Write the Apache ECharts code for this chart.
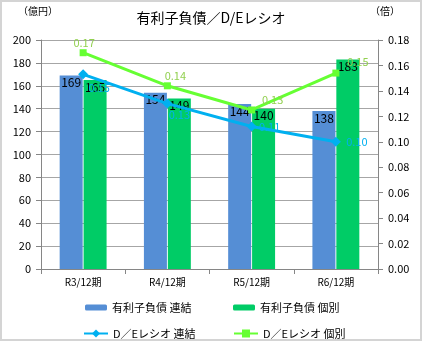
<!DOCTYPE html>
<html><head><meta charset="utf-8">
<script src="https://cdn.jsdelivr.net/npm/echarts@6/dist/echarts.min.js"></script>
<style>html,body{margin:0;padding:0;background:#fff}#c{width:422px;height:341px}</style>
</head><body><div id="c"></div>
<script>
const categories = ['R3/12期','R4/12期','R5/12期','R6/12期'];
const debtConsolidated = [169,154,144,138];
const debtSeparate = [165,149,140,183];
const deConsolidated = [0.153,0.130,0.112,0.100];
const deSeparate = [0.170,0.144,0.125,0.154];
const seriesNames = ['有利子負債 連結','有利子負債 個別','D／Eレシオ 連結','D／Eレシオ 個別'];

// label offsets (style only, relative to point)
const blueLabelOffsets = [[16,13],[12,11],[18,0],[21,0]];
const greenLabelOffsets = [[1,-10],[8,-10],[21,-10],[22,-11]];

const FONT = '"Noto Sans CJK JP", sans-serif';
const chart = echarts.init(document.getElementById('c'), null, {renderer:'canvas'});
const legendBase = {orient:'horizontal', itemWidth:22, itemHeight:6, itemGap:4,
  textStyle:{fontFamily:FONT, fontSize:11, color:'#000'}, selectedMode:false};
const withOffsets = (vals, offs) => vals.map((v,i)=>({value:v, label:{offset:offs[i]}}));
chart.setOption({
  animation:false,
  textStyle:{fontFamily:FONT},
  graphic:[
    {type:'rect', shape:{x:1,y:1,width:420,height:339}, style:{fill:'none', stroke:'#d4d4d4', lineWidth:2}, z:100},
    {type:'text', left:18, top:6, style:{text:'（億円）', font:'10px '+FONT, fill:'#000'}},
    {type:'text', left:370, top:6, style:{text:'（倍）', font:'10px '+FONT, fill:'#000'}}
  ],
  title:{text:'有利子負債／D/Eレシオ', left:'center', top:6,
    textStyle:{fontFamily:FONT, fontSize:14, fontWeight:'normal', color:'#000'}},
  legend:[
    Object.assign({}, legendBase, {left:80, top:297, data:[seriesNames[0]]}),
    Object.assign({}, legendBase, {left:228, top:297, data:[seriesNames[1]]}),
    Object.assign({}, legendBase, {left:78, top:323, itemWidth:24, itemHeight:10, data:[seriesNames[2]]}),
    Object.assign({}, legendBase, {left:228, top:323, itemWidth:24, itemHeight:10, data:[seriesNames[3]]})
  ],
  grid:{left:41, right:44, top:40, bottom:72},
  xAxis:{type:'category', data:categories,
    axisLine:{lineStyle:{color:'#868686'}},
    axisTick:{show:true, length:5, lineStyle:{color:'#868686'}},
    axisLabel:{fontFamily:FONT, fontSize:10, color:'#000', margin:8}},
  yAxis:[
    {type:'value', min:0, max:200, interval:20,
     axisLine:{show:true, lineStyle:{color:'#868686'}},
     axisTick:{show:true, length:5, lineStyle:{color:'#868686'}},
     splitLine:{lineStyle:{color:'#a6a6a6'}},
     axisLabel:{fontFamily:FONT, fontSize:11, color:'#000', margin:10}},
    {type:'value', min:0, max:0.18, interval:0.02,
     axisLine:{show:true, lineStyle:{color:'#868686'}},
     axisTick:{show:true, length:5, lineStyle:{color:'#868686'}},
     splitLine:{show:false},
     axisLabel:{fontFamily:FONT, fontSize:11, color:'#000', margin:10, formatter:v=>v.toFixed(2)}}
  ],
  series:[
    {name:seriesNames[0], type:'bar', data:debtConsolidated, barWidth:23, barGap:'4%',
     itemStyle:{color:'#558ed5'}, z:2,
     label:{show:true, position:'insideTop', distance:1, color:'#000', fontSize:12, fontFamily:FONT}},
    {name:seriesNames[1], type:'bar', data:debtSeparate, barWidth:23, barGap:'4%',
     itemStyle:{color:'#00cc66'}, z:2,
     label:{show:true, position:'insideTop', distance:1, color:'#000', fontSize:12, fontFamily:FONT}},
    {name:seriesNames[2], type:'line', yAxisIndex:1, data:withOffsets(deConsolidated, blueLabelOffsets),
     symbol:'diamond', symbolSize:10, lineStyle:{color:'#00b0f0', width:3},
     itemStyle:{color:'#00b0f0'}, z:3,
     label:{show:true, position:'inside', color:'#00b0f0', fontSize:11, fontFamily:FONT, formatter:p=>p.value.toFixed(2)}},
    {name:seriesNames[3], type:'line', yAxisIndex:1, data:withOffsets(deSeparate, greenLabelOffsets),
     symbol:'rect', symbolSize:7, lineStyle:{color:'#66ff33', width:3},
     itemStyle:{color:'#66ff33'}, z:3,
     label:{show:true, position:'inside', color:'#92d050', fontSize:11, fontFamily:FONT, formatter:p=>p.value.toFixed(2)}}
  ]
});
</script></body></html>
